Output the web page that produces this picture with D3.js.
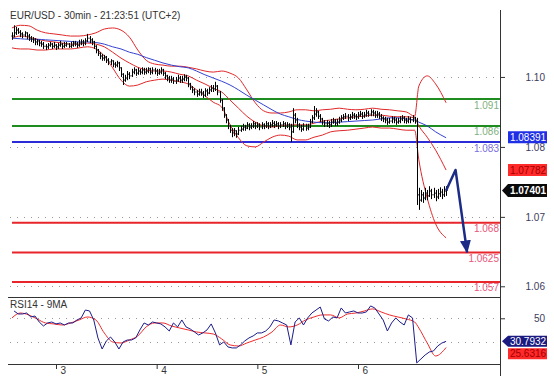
<!DOCTYPE html>
<html>
<head>
<meta charset="utf-8">
<script src="https://cdn.jsdelivr.net/npm/d3@7"></script>
<style>
  body { margin: 0; background: #fff; }
  svg { display: block; font-family: "Liberation Sans", Arial, sans-serif; }
</style>
</head>
<body>
<div id="chart"></div>
<script>
// EUR/USD 30min bars, first bar = 2 Nov 13:30
const START = new Date(2015, 10, 2, 13, 30);

const closes = [
  1.1027,1.1033,1.1038,1.1034,1.1031,1.1029,1.1033,1.1027,1.1023,1.1021,
  1.1020,1.1016,1.1018,1.1014,1.1012,1.1008,1.1007,1.1010,1.1012,1.1008,
  1.1010,1.1007,1.1010,1.1012,1.1008,1.1010,1.1012,1.1008,1.1010,1.1014,
  1.1012,1.1010,1.1014,1.1016,1.1014,1.1018,1.1023,1.1020,1.1016,1.1008,
  1.1001,1.0995,1.0990,1.0986,1.0988,1.0982,1.0979,1.0981,1.0975,1.0973,
  1.0977,1.0968,1.0956,1.0945,1.0949,1.0956,1.0953,1.0960,1.0964,1.0958,
  1.0962,1.0960,1.0964,1.0960,1.0962,1.0966,1.0960,1.0964,1.0962,1.0958,
  1.0960,1.0964,1.0958,1.0953,1.0949,1.0945,1.0947,1.0943,1.0945,1.0949,
  1.0945,1.0947,1.0951,1.0949,1.0938,1.0932,1.0927,1.0923,1.0919,1.0923,
  1.0921,1.0917,1.0925,1.0921,1.0927,1.0930,1.0929,1.0934,1.0923,1.0908,
  1.0893,1.0880,1.0871,1.0860,1.0852,1.0847,1.0851,1.0845,1.0852,1.0854,
  1.0858,1.0856,1.0862,1.0858,1.0860,1.0864,1.0860,1.0862,1.0858,1.0862,
  1.0860,1.0864,1.0860,1.0862,1.0865,1.0862,1.0864,1.0860,1.0862,1.0864,
  1.0860,1.0862,1.0858,1.0849,1.0880,1.0871,1.0862,1.0858,1.0854,1.0860,
  1.0856,1.0858,1.0867,1.0875,1.0882,1.0886,1.0878,1.0873,1.0867,1.0864,
  1.0865,1.0862,1.0867,1.0869,1.0865,1.0867,1.0871,1.0875,1.0877,1.0878,
  1.0875,1.0877,1.0880,1.0878,1.0877,1.0880,1.0882,1.0878,1.0880,1.0884,
  1.0882,1.0886,1.0884,1.0880,1.0882,1.0878,1.0875,1.0873,1.0871,1.0867,
  1.0869,1.0873,1.0871,1.0867,1.0869,1.0873,1.0875,1.0871,1.0869,1.0873,
  1.0871,1.0875,1.0869,1.0732,1.0722,1.0732,1.0726,1.0735,1.0730,1.0739,
  1.0732,1.0735,1.0728,1.0734,1.0737,1.0732,1.0739,1.07401
];

const highs = [
  1.1034,1.1047,1.1044,1.1042,1.1038,1.1034,1.1036,1.1034,1.1031,1.1027,
  1.1025,1.1023,1.1021,1.1020,1.1018,1.1016,1.1012,1.1014,1.1016,1.1014,
  1.1016,1.1012,1.1014,1.1018,1.1014,1.1016,1.1016,1.1014,1.1016,1.1018,
  1.1018,1.1016,1.1020,1.1021,1.1020,1.1023,1.1031,1.1027,1.1023,1.1018,
  1.1010,1.1003,1.0997,1.0994,1.0992,1.0990,1.0986,1.0984,1.0982,1.0979,
  1.0981,1.0979,1.0969,1.0958,1.0955,1.0962,1.0960,1.0966,1.0969,1.0966,
  1.0968,1.0966,1.0969,1.0968,1.0968,1.0969,1.0968,1.0969,1.0968,1.0966,
  1.0966,1.0969,1.0966,1.0960,1.0955,1.0953,1.0953,1.0951,1.0951,1.0955,
  1.0953,1.0953,1.0956,1.0955,1.0951,1.0940,1.0934,1.0930,1.0927,1.0929,
  1.0929,1.0925,1.0930,1.0929,1.0932,1.0936,1.0936,1.0942,1.0936,1.0925,
  1.0910,1.0895,1.0882,1.0873,1.0862,1.0856,1.0856,1.0852,1.0858,1.0860,
  1.0864,1.0862,1.0867,1.0865,1.0865,1.0869,1.0867,1.0867,1.0865,1.0867,
  1.0865,1.0869,1.0867,1.0867,1.0871,1.0869,1.0869,1.0867,1.0867,1.0869,
  1.0867,1.0867,1.0865,1.0864,1.0893,1.0884,1.0875,1.0865,1.0862,1.0865,
  1.0864,1.0864,1.0873,1.0880,1.0897,1.0893,1.0888,1.0882,1.0875,1.0871,
  1.0871,1.0869,1.0873,1.0875,1.0873,1.0873,1.0877,1.0880,1.0882,1.0884,
  1.0882,1.0882,1.0886,1.0884,1.0882,1.0886,1.0888,1.0886,1.0886,1.0890,
  1.0888,1.0891,1.0890,1.0888,1.0888,1.0886,1.0882,1.0878,1.0877,1.0875,
  1.0875,1.0878,1.0877,1.0875,1.0875,1.0878,1.0880,1.0878,1.0875,1.0878,
  1.0877,1.0880,1.0877,1.0875,1.0745,1.0741,1.0737,1.0745,1.0741,1.0748,
  1.0743,1.0745,1.0741,1.0743,1.0746,1.0743,1.0748,1.0748
];

const lows = [
  1.1020,1.1025,1.1029,1.1031,1.1025,1.1023,1.1025,1.1021,1.1018,1.1016,
  1.1014,1.1010,1.1010,1.1008,1.1007,1.1003,1.1001,1.1003,1.1007,1.1003,
  1.1005,1.1001,1.1003,1.1007,1.1003,1.1005,1.1007,1.1005,1.1005,1.1007,
  1.1008,1.1005,1.1007,1.1010,1.1008,1.1010,1.1016,1.1014,1.1010,1.1003,
  1.0995,1.0990,1.0984,1.0981,1.0981,1.0977,1.0973,1.0973,1.0969,1.0968,
  1.0969,1.0962,1.0951,1.0936,1.0942,1.0945,1.0947,1.0951,1.0956,1.0953,
  1.0955,1.0955,1.0956,1.0955,1.0956,1.0958,1.0955,1.0956,1.0956,1.0953,
  1.0955,1.0956,1.0953,1.0947,1.0943,1.0940,1.0940,1.0938,1.0938,1.0942,
  1.0940,1.0940,1.0943,1.0943,1.0932,1.0927,1.0921,1.0917,1.0914,1.0916,
  1.0916,1.0912,1.0914,1.0916,1.0919,1.0923,1.0923,1.0925,1.0917,1.0903,
  1.0888,1.0875,1.0865,1.0854,1.0847,1.0839,1.0841,1.0838,1.0843,1.0849,
  1.0851,1.0851,1.0854,1.0852,1.0854,1.0856,1.0854,1.0856,1.0852,1.0854,
  1.0854,1.0856,1.0854,1.0856,1.0858,1.0856,1.0858,1.0854,1.0856,1.0858,
  1.0854,1.0856,1.0852,1.0830,1.0847,1.0865,1.0856,1.0852,1.0849,1.0851,
  1.0851,1.0852,1.0856,1.0865,1.0871,1.0877,1.0873,1.0867,1.0862,1.0858,
  1.0858,1.0856,1.0858,1.0864,1.0860,1.0860,1.0864,1.0867,1.0871,1.0873,
  1.0869,1.0871,1.0873,1.0873,1.0871,1.0873,1.0877,1.0873,1.0875,1.0877,
  1.0877,1.0878,1.0878,1.0875,1.0875,1.0873,1.0869,1.0867,1.0865,1.0862,
  1.0864,1.0865,1.0865,1.0862,1.0864,1.0865,1.0869,1.0865,1.0864,1.0865,
  1.0865,1.0867,1.0864,1.0713,1.0704,1.0719,1.0717,1.0722,1.0722,1.0728,
  1.0724,1.0726,1.0720,1.0724,1.0728,1.0724,1.0728,1.0730
];

// indicator samples: every 4th bar, denser after the drop
const bandIdx = d3.range(0, 193, 4).concat([194, 198, 202, 207]);

const maBlue = [
  1.1023,1.1022,1.1021,1.1021,1.1020,1.1019,1.1018,1.1017,1.1016,1.1016,
  1.1015,1.1012,1.1007,1.1003,1.0997,1.0993,1.0987,1.0982,1.0977,1.0973,
  1.0970,1.0968,1.0962,1.0955,1.0949,1.0943,1.0936,1.0927,1.0917,1.0908,
  1.0899,1.0890,1.0882,1.0877,1.0872,1.0869,1.0867,1.0866,1.0866,1.0867,
  1.0868,1.0869,1.0870,1.0871,1.0873,1.0875,1.0875,1.0873,1.0871,
  1.0867,1.0860,1.0849,1.0838
];

const bbUpper = [
  1.1042,1.1047,1.1046,1.1038,1.1033,1.1031,1.1029,1.1027,1.1027,1.1029,
  1.1033,1.1040,1.1042,1.1038,1.1025,1.1001,1.0982,1.0975,1.0973,1.0971,
  1.0971,1.0969,1.0966,1.0962,1.0960,1.0962,1.0958,1.0949,1.0927,1.0903,
  1.0888,1.0884,1.0884,1.0886,1.0890,1.0890,1.0888,1.0890,1.0891,1.0893,
  1.0891,1.0890,1.0891,1.0893,1.0891,1.0890,1.0888,1.0886,1.0878,
  1.0934,1.0953,1.0938,1.0903
];

const bbMid = [
  1.1023,1.1027,1.1025,1.1021,1.1018,1.1016,1.1014,1.1012,1.1012,1.1014,
  1.1012,1.1007,1.0997,1.0986,1.0977,1.0969,1.0964,1.0962,1.0962,1.0960,
  1.0956,1.0953,1.0945,1.0938,1.0930,1.0923,1.0908,1.0893,1.0878,1.0867,
  1.0860,1.0858,1.0860,1.0862,1.0862,1.0862,1.0865,1.0869,1.0871,1.0873,
  1.0875,1.0877,1.0878,1.0880,1.0880,1.0878,1.0877,1.0877,1.0875,
  1.0860,1.0839,1.0815,1.0778
];

const bbLower = [
  1.1005,1.1003,1.1003,1.1001,1.1001,1.1003,1.1003,1.1003,1.1005,1.1007,
  1.1003,1.0990,1.0968,1.0945,1.0934,1.0936,1.0942,1.0945,1.0947,1.0945,
  1.0942,1.0938,1.0927,1.0916,1.0904,1.0895,1.0862,1.0838,1.0823,1.0821,
  1.0830,1.0839,1.0843,1.0841,1.0834,1.0834,1.0839,1.0843,1.0849,1.0851,
  1.0852,1.0854,1.0856,1.0858,1.0856,1.0856,1.0854,1.0852,1.0852,
  1.0797,1.0726,1.0678,1.0652
];

// RSI14 every 2nd bar, 9MA at bandIdx
const rsiIdx = d3.range(1, 208, 2);
const rsi = [
  56.1,53.6,53.6,54.4,51.1,51.9,46.9,43.6,46.1,46.9,
  45.3,46.1,44.4,46.1,46.1,48.6,50.3,56.9,56.1,48.6,
  33.6,24.4,31.1,34.4,30.3,24.4,30.3,31.9,31.9,33.6,
  40.3,46.1,44.4,46.9,46.1,45.3,42.8,39.4,46.1,42.8,
  48.6,42.8,41.1,38.6,36.1,37.8,40.3,45.3,37.8,27.8,
  30.3,26.1,25.3,25.3,27.8,31.1,33.6,35.3,37.8,37.8,
  39.4,42.8,48.6,47.8,46.1,44.4,27.8,46.9,50.3,44.4,
  50.3,54.4,56.9,59.4,49.4,47.8,51.1,50.3,58.6,54.4,
  55.3,56.1,54.4,54.4,55.3,60.3,58.6,53.6,48.6,39.4,
  46.1,50.3,46.9,44.4,52.8,50.3,12.8,16.1,19.4,21.9,
  22.8,26.9,29.4,30.7932
];
const rsiMa = [
  50.3,54.4,52.8,49.4,46.1,45.3,44.4,46.1,48.6,51.1,
  48.6,37.8,30.3,29.4,31.9,35.3,42.8,46.1,46.1,43.6,
  41.9,40.3,38.6,37.8,36.9,32.8,27.8,26.9,29.4,31.9,
  34.4,38.6,44.4,42.8,44.4,48.6,51.1,52.8,52.8,50.3,
  53.6,54.4,56.1,57.8,55.3,52.8,51.1,49.4,46.9,
  41.9,29.4,18.6,25.6316
];

// support / resistance levels
const levelValues = [1.091, 1.086, 1.083, 1.068, 1.0625, 1.057];
const levelLabels = ["1.091", "1.086", "1.083", "1.068", "1.0625", "1.057"];

const gridPrices = [1.0951, 1.0821, 1.0691, 1.0562];
const rsiGrid = [50, 30];
const dayTicks = [new Date(2015,10,3), new Date(2015,10,4), new Date(2015,10,5), new Date(2015,10,6)];

const lastPrice = 1.07401;
const blueMark = 1.08391;
const redMark = 1.07782;

// forecast arrow
const arrowTimes = [new Date(2015,10,6,21,0), new Date(2015,10,6,23,15), new Date(2015,10,7,2,0)];
const arrowPrices = [1.07401, 1.07782, 1.0625];

// ---- styles
const levelColors = ["#1e8c1e", "#1e8c1e", "#2b2bd9", "#e8252a", "#e8252a", "#e8252a"];
const levelTextColors = ["#7fb07f", "#7fb07f", "#7a6ee0", "#e8557a", "#e8557a", "#e8557a"];

const W = 554, H = 390;
const svg = d3.select("#chart").append("svg")
  .attr("width", W)
  .attr("height", H);

const x = d3.scaleTime()
  .domain([new Date(2015,10,2,13,2), new Date(2015,10,7,9,51)])
  .range([10, 500]);
const y = d3.scaleLinear().domain([1.05421, 1.10754]).range([297, 10]);
const yRsi = d3.scaleLinear().domain([11.9, 67.75]).range([364, 297]);

const barTime = i => d3.timeMinute.offset(START, 30 * i);

svg.append("clipPath").attr("id", "clipMain")
  .append("rect").attr("x", 10).attr("y", 10).attr("width", 490).attr("height", 287);
svg.append("clipPath").attr("id", "clipRsi")
  .append("rect").attr("x", 10).attr("y", 297).attr("width", 490).attr("height", 67);

// dotted grid
svg.append("g").selectAll("line")
  .data(gridPrices)
  .join("line")
  .attr("x1", 10).attr("x2", 500)
  .attr("y1", d => Math.round(y(d)) + 0.5)
  .attr("y2", d => Math.round(y(d)) + 0.5)
  .attr("stroke", "#999")
  .attr("stroke-dasharray", "1,6");

svg.append("g").selectAll("line")
  .data(rsiGrid)
  .join("line")
  .attr("x1", 10).attr("x2", 500)
  .attr("y1", d => Math.round(yRsi(d)) + 0.5)
  .attr("y2", d => Math.round(yRsi(d)) + 0.5)
  .attr("stroke", "#999")
  .attr("stroke-dasharray", "1,6");

// level lines
svg.append("g").selectAll("line")
  .data(levelValues)
  .join("line")
  .attr("x1", 12).attr("x2", 500)
  .attr("y1", d => y(d)).attr("y2", d => y(d))
  .attr("stroke", (d, i) => levelColors[i])
  .attr("stroke-width", 2);

svg.append("g").selectAll("text")
  .data(levelValues)
  .join("text")
  .attr("x", 499)
  .attr("y", d => y(d) + 9.5)
  .attr("text-anchor", "end")
  .attr("font-size", 10)
  .attr("fill", (d, i) => levelTextColors[i])
  .text((d, i) => levelLabels[i]);

const main = svg.append("g").attr("clip-path", "url(#clipMain)");

// bollinger + moving average
const bandLine = arr => d3.line()
  .x((d, k) => x(barTime(bandIdx[k])))
  .y(d => y(d))
  .curve(d3.curveMonotoneX)(arr);

[bbUpper, bbMid, bbLower].forEach(arr => {
  main.append("path")
    .attr("d", bandLine(arr))
    .attr("fill", "none")
    .attr("stroke", "#e0282a")
    .attr("stroke-width", 1);
});
main.append("path")
  .attr("d", bandLine(maBlue))
  .attr("fill", "none")
  .attr("stroke", "#3442d0")
  .attr("stroke-width", 1);

// OHLC bars
const bars = closes.map((c, i) => ({
  t: barTime(i), o: i ? closes[i - 1] : c, h: highs[i], l: lows[i], c: c
}));

main.append("g").selectAll("path")
  .data(bars)
  .join("path")
  .attr("d", d => {
    const px = Math.round(x(d.t)) + 0.5;
    return `M${px - 1.5},${y(d.o)}H${px}M${px},${y(d.c)}H${px + 1.5}`;
  })
  .attr("stroke", "#666")
  .attr("stroke-width", 1)
  .attr("fill", "none");

main.append("g").selectAll("path")
  .data(bars)
  .join("path")
  .attr("d", d => {
    const px = Math.round(x(d.t)) + 0.5;
    return `M${px},${y(d.h)}V${y(d.l)}`;
  })
  .attr("stroke", "#000")
  .attr("stroke-width", 1)
  .attr("fill", "none");

// forecast arrow
svg.append("defs").append("marker")
  .attr("id", "head")
  .attr("viewBox", "0 0 13 11")
  .attr("refX", 12).attr("refY", 5.5)
  .attr("markerWidth", 13).attr("markerHeight", 11)
  .attr("markerUnits", "userSpaceOnUse")
  .attr("orient", "auto")
  .append("path")
  .attr("d", "M0,0L13,5.5L0,11Z")
  .attr("fill", "#1b2b86");

svg.append("path")
  .attr("d", d3.line()
    .x((d, k) => x(arrowTimes[k]))
    .y(d => y(d))(arrowPrices))
  .attr("fill", "none")
  .attr("stroke", "#1b2b86")
  .attr("stroke-width", 2.5)
  .attr("stroke-linejoin", "round")
  .attr("marker-end", "url(#head)");

// RSI panel
const rsiG = svg.append("g").attr("clip-path", "url(#clipRsi)");
rsiG.append("path")
  .attr("d", d3.line()
    .x((d, k) => x(barTime(bandIdx[k])))
    .y(d => yRsi(d))
    .curve(d3.curveMonotoneX)(rsiMa))
  .attr("fill", "none")
  .attr("stroke", "#ee2b2b")
  .attr("stroke-width", 1);
rsiG.append("path")
  .attr("d", d3.line()
    .x((d, k) => x(barTime(rsiIdx[k])))
    .y(d => yRsi(d))(rsi))
  .attr("fill", "none")
  .attr("stroke", "#1c1c8a")
  .attr("stroke-width", 1);

// frame lines
svg.append("line").attr("x1", 8).attr("x2", 500).attr("y1", 297.5).attr("y2", 297.5)
  .attr("stroke", "#333");
svg.append("line").attr("x1", 8).attr("x2", 500).attr("y1", 364.5).attr("y2", 364.5)
  .attr("stroke", "#333");
svg.append("line").attr("x1", 500.5).attr("x2", 500.5).attr("y1", 10).attr("y2", 376)
  .attr("stroke", "#333");

// axes
const yAxis = svg.append("g")
  .attr("transform", "translate(500,0)")
  .call(d3.axisRight(y).tickValues(gridPrices).tickFormat(d3.format(".2f")).tickSize(5));
yAxis.attr("font-family", null);
yAxis.select(".domain").remove();
yAxis.selectAll("line").attr("stroke", "#333");
yAxis.selectAll("text").attr("x", 45).attr("text-anchor", "end").attr("fill", "#3c3c5c");

const rAxis = svg.append("g")
  .attr("transform", "translate(500,0)")
  .call(d3.axisRight(yRsi).tickValues([50]).tickSize(5));
rAxis.attr("font-family", null);
rAxis.select(".domain").remove();
rAxis.selectAll("line").attr("stroke", "#333");
rAxis.selectAll("text").attr("x", 45).attr("text-anchor", "end").attr("fill", "#3c3c5c");

const xAxis = svg.append("g")
  .attr("transform", "translate(0,364)")
  .call(d3.axisBottom(x).tickValues(dayTicks).tickFormat(d3.timeFormat("%-d")).tickSize(5));
xAxis.attr("font-family", null);
xAxis.select(".domain").remove();
xAxis.selectAll("line").attr("stroke", "#333");
xAxis.selectAll("text").attr("x", 4).attr("y", 3).attr("text-anchor", "start").attr("fill", "#333");

// price tags on the right
function tag(yc, label, fill, color, bold, pointer, h) {
  const x0 = 508, x1 = 547;
  const pts = pointer
    ? [[502, yc], [x0, yc - h / 2], [x1, yc - h / 2], [x1, yc + h / 2], [x0, yc + h / 2]]
    : [[x0, yc - h / 2], [x1, yc - h / 2], [x1, yc + h / 2], [x0, yc + h / 2]];
  svg.append("polygon").attr("points", pts.map(p => p.join(",")).join(" ")).attr("fill", fill);
  svg.append("text")
    .attr("x", (x0 + x1) / 2 + 0.5)
    .attr("y", yc + 3.6)
    .attr("text-anchor", "middle")
    .attr("font-size", 10)
    .attr("font-weight", bold ? "bold" : "normal")
    .attr("fill", color)
    .text(label);
}
tag(y(blueMark), d3.format(".5f")(blueMark), "#1f2fe6", "#fff", false, false, 12);
tag(y(redMark), d3.format(".5f")(redMark), "#ff2a2a", "#a30000", false, false, 12);
tag(y(lastPrice), d3.format(".5f")(lastPrice), "#0a0a0a", "#fff", true, true, 13);

const rsiLast = rsi[rsi.length - 1], maLast = rsiMa[rsiMa.length - 1];
tag(yRsi(rsiLast), d3.format(".4f")(rsiLast), "#1a1a80", "#fff", false, true, 11);
tag(Math.max(yRsi(maLast), yRsi(rsiLast) + 12.5), d3.format(".4f")(maLast), "#ff2a2a", "#a30000", false, false, 11);

// titles
svg.append("text").attr("x", 10).attr("y", 19).attr("font-size", 10).attr("fill", "#333")
  .text("EUR/USD - 30min - 21:23:51 (UTC+2)");
svg.append("text").attr("x", 10).attr("y", 308).attr("font-size", 10).attr("fill", "#333")
  .text("RSI14 - 9MA");
</script>
</body>
</html>
